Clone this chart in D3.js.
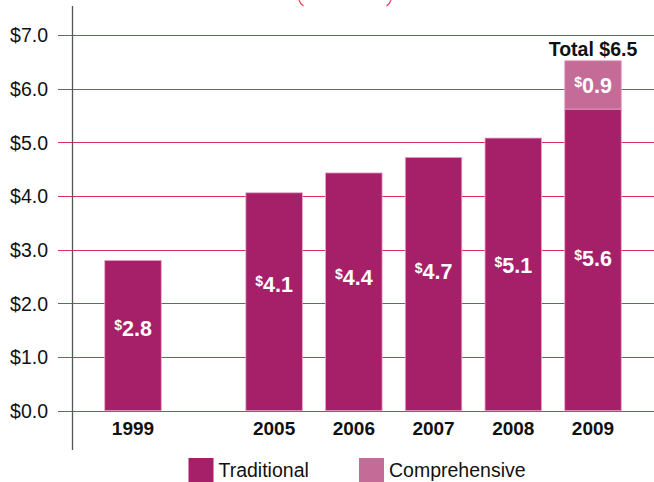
<!DOCTYPE html>
<html><head><meta charset="utf-8">
<script src="https://cdn.jsdelivr.net/npm/d3@7"></script>
<style>
html,body{margin:0;padding:0;background:#fff;}
svg{display:block;font-family:"Liberation Sans",Arial,Helvetica,sans-serif;}
</style></head>
<body>
<svg id="chart" width="654" height="482"></svg>
<script>
// ---- data ----
const years = ["1999","2005","2006","2007","2008","2009"];
const traditional = [2.8, 4.06, 4.43, 4.72, 5.08, 5.62];
const comprehensive = [0, 0, 0, 0, 0, 0.9];
const tradLabels = ["2.8","4.1","4.4","4.7","5.1","5.6"];
const compLabels = ["","","","","","0.9"];
const labelAt = [1.39, 2.22, 2.34, 2.46, 2.57, 2.70]; // baseline level of value labels ($)
const totalLabel = "Total $6.5";
const yTicks = [0,1,2,3,4,5,6,7];
const seriesNames = ["Traditional","Comprehensive"];

// ---- drawing ----
const colors = ["#a61f69","#c46b98"];
const svg = d3.select("#chart");

const y = d3.scaleLinear().domain([0,7]).range([410.7,35]);
// gap after first category
const slot = years.map((d,i)=> i===0 ? 0 : i + 0.77);
const x = d3.scaleLinear().domain([0, slot[slot.length-1]]).range([133, 593]);
const bw = 56.5;

// decorative arc at top
svg.append("path").attr("d","M299,0 Q300,3.5 303.5,6").attr("fill","none").attr("stroke","#e4405a").attr("stroke-width",1.2);
svg.append("path").attr("d","M391,0 Q390,3.5 386.5,6").attr("fill","none").attr("stroke","#e4405a").attr("stroke-width",1.2);

// gridlines
svg.append("g").selectAll("line").data(yTicks).join("line")
  .attr("x1",58).attr("x2",654)
  .attr("y1",d=>Math.round(y(d))+0.5).attr("y2",d=>Math.round(y(d))+0.5)
  .attr("stroke","#dc2f55").attr("stroke-width",1.2);

// y tick labels via axis
const yAxis = svg.append("g").attr("transform","translate(48,0)")
  .call(d3.axisLeft(y).tickValues(yTicks).tickSize(0).tickPadding(0).tickFormat(d=>"$"+d.toFixed(1)));
yAxis.select(".domain").remove();
yAxis.selectAll("text").attr("font-size",19.5).attr("fill","#111").attr("font-family","'Liberation Sans',Arial,sans-serif").attr("dy","0.35em");

// vertical axis line
svg.append("line").attr("x1",72.5).attr("x2",72.5).attr("y1",6).attr("y2",450)
  .attr("stroke","#555").attr("stroke-width",1.3);

// bars
const gb = svg.append("g");
years.forEach((yr,i)=>{
  const cx = x(slot[i]);
  gb.append("rect").attr("x",cx-bw/2).attr("width",bw)
    .attr("y",y(traditional[i])).attr("height",y(0)-y(traditional[i]))
    .attr("fill",colors[0]).attr("stroke","#e7a3c3").attr("stroke-width",0.8);
  if (comprehensive[i]>0){
    const top = traditional[i]+comprehensive[i];
    gb.append("rect").attr("x",cx-bw/2).attr("width",bw)
      .attr("y",y(top)).attr("height",y(traditional[i])-y(top))
      .attr("fill",colors[1]).attr("stroke","#e7a3c3").attr("stroke-width",0.8);
  }
});

// value labels
function moneyLabel(g, cx, by, txt){
  const t = g.append("text").attr("x",cx).attr("y",by).attr("text-anchor","middle")
    .attr("fill","#fff").attr("font-weight","bold");
  t.append("tspan").attr("font-size",14).attr("dy",-6).text("$");
  t.append("tspan").attr("font-size",21.5).attr("dy",6).text(txt);
}
const gl = svg.append("g");
years.forEach((yr,i)=>{
  const cx = x(slot[i]);
  moneyLabel(gl, cx, y(labelAt[i]), tradLabels[i]);
  if (compLabels[i]){
    const mid = (y(traditional[i]) + y(traditional[i]+comprehensive[i]))/2;
    moneyLabel(gl, cx, mid+8, compLabels[i]);
  }
});
// total label
svg.append("text").attr("x",x(slot[5])).attr("y",y(traditional[5]+comprehensive[5])-4.5)
  .attr("text-anchor","middle").attr("font-size",19.5).attr("font-weight","bold").attr("fill","#111")
  .text(totalLabel);

// x labels
svg.append("g").selectAll("text").data(years).join("text")
  .attr("x",(d,i)=>x(slot[i])).attr("y",435)
  .attr("text-anchor","middle").attr("font-size",19).attr("font-weight","bold").attr("fill","#111")
  .text(d=>d);

// legend
const lg = svg.append("g");
const legX = [188.5, 359];
seriesNames.forEach((n,i)=>{
  lg.append("rect").attr("x",legX[i]).attr("y",458).attr("width",25).attr("height",24).attr("fill",colors[i]);
  lg.append("text").attr("x",legX[i]+30).attr("y",476.5).attr("font-size",19.5).attr("fill","#111").text(n);
});
</script>
</body></html>
